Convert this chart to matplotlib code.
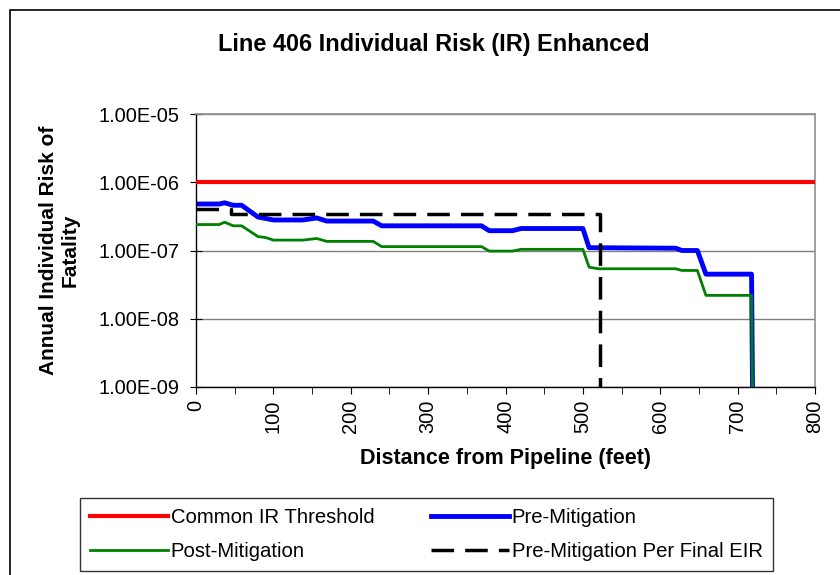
import matplotlib
matplotlib.use("Agg")
import matplotlib.pyplot as plt
from matplotlib.ticker import FuncFormatter, MultipleLocator, FixedLocator
from matplotlib.patches import Rectangle

plt.rcParams['font.family'] = ['Liberation Sans', 'DejaVu Sans']

# distance from pipeline (feet) and annual individual risk values
threshold_x = [0, 800]
threshold_y = [1e-6, 1e-6]

pre_x = [0, 30, 37, 48, 59, 80, 100, 138, 156, 169, 229, 240, 369, 379, 409, 420,
         500, 508, 620, 628, 648, 659, 718, 720]
pre_y = [4.8e-7, 4.8e-7, 5.0e-7, 4.6e-7, 4.6e-7, 3.1e-7, 2.8e-7, 2.8e-7, 3.0e-7, 2.7e-7,
         2.7e-7, 2.3e-7, 2.3e-7, 1.95e-7, 1.95e-7, 2.1e-7, 2.1e-7, 1.1e-7, 1.08e-7, 1.0e-7,
         1.0e-7, 4.5e-8, 4.5e-8, 1e-10]

post_x = [0, 30, 37, 48, 59, 80, 90, 100, 138, 156, 169, 229, 240, 369, 379, 409, 420,
          500, 508, 520, 620, 628, 648, 659, 718, 720]
post_y = [2.4e-7, 2.4e-7, 2.6e-7, 2.3e-7, 2.3e-7, 1.6e-7, 1.55e-7, 1.42e-7, 1.42e-7, 1.5e-7,
          1.36e-7, 1.36e-7, 1.14e-7, 1.14e-7, 9.8e-8, 9.8e-8, 1.04e-7, 1.04e-7, 5.7e-8, 5.4e-8,
          5.4e-8, 5.1e-8, 5.1e-8, 2.2e-8, 2.2e-8, 1e-10]

eir_x = [0, 45, 45, 522, 522]
eir_y = [4.0e-7, 4.0e-7, 3.4e-7, 3.4e-7, 1e-10]

W, H = 840, 575
fig = plt.figure(figsize=(W / 100, H / 100), dpi=100)

# outer chart border (runs off the right and bottom edges)
fig.patches.append(Rectangle((10 / W, -0.05), 1.1, 1 - 10 / H + 0.05,
                             transform=fig.transFigure, fill=False,
                             edgecolor='black', linewidth=1.2))

ax = fig.add_axes([196 / W, 1 - 387 / H, (815 - 196) / W, (387 - 114) / H])

ax.plot(threshold_x, threshold_y, color='#ff0000', lw=3, label='Common IR Threshold', zorder=3)
ax.plot(post_x, post_y, color='#008000', lw=2, label='Post-Mitigation', zorder=3)
ax.plot(pre_x, pre_y, color='#0000ff', lw=3.5, label='Pre-Mitigation', zorder=2)
ax.plot(eir_x, eir_y, color='black', lw=2.5, dashes=(6.5, 3.2),
        label='Pre-Mitigation Per Final EIR', zorder=4)

ax.set_yscale('log')
ax.set_ylim(1e-9, 1e-5)
ax.set_xlim(0, 800)
ax.yaxis.set_major_locator(FixedLocator([1e-9, 1e-8, 1e-7, 1e-6, 1e-5]))
ax.yaxis.set_minor_locator(FixedLocator([]))
ax.yaxis.set_major_formatter(FuncFormatter(lambda v, p: '{:.2E}'.format(v)))
ax.xaxis.set_major_locator(MultipleLocator(100))
ax.xaxis.set_minor_locator(MultipleLocator(50))

ax.grid(axis='y', color='#808080', lw=1)
ax.set_axisbelow(True)
for s in ['top', 'right']:
    ax.spines[s].set_color('#909090')
    ax.spines[s].set_linewidth(1.2)
for s in ['left', 'bottom']:
    ax.spines[s].set_color('black')
    ax.spines[s].set_linewidth(1)

ax.tick_params(axis='y', which='major', direction='inout', length=8, labelsize=14.4, pad=8)
ax.tick_params(axis='x', which='both', direction='out', length=5, labelsize=14.4,
               labelrotation=90, pad=4)

ax.set_xlabel('Distance from Pipeline (feet)', fontsize=15.5, fontweight='bold')
ax.xaxis.set_label_coords(0.5, -(448 - 387) / 273)
ax.set_ylabel('Annual Individual Risk of\nFatality', fontsize=15, fontweight='bold')
ax.yaxis.set_label_coords(-(196 - 80) / 619, 0.5)

fig.text(434 / W, 1 - 45 / H, 'Line 406 Individual Risk (IR) Enhanced',
         ha='center', va='center', fontsize=16.9, fontweight='bold')

leg = fig.legend(loc='upper left', bbox_to_anchor=(80 / W, 1 - 498 / H),
                 ncol=2, fontsize=14.6, handlelength=3.85, handletextpad=0.12,
                 columnspacing=2.8, frameon=True, fancybox=False, edgecolor='black',
                 borderaxespad=0, labelspacing=0.72, borderpad=0.5)
leg.get_frame().set_linewidth(1)

fig.savefig('out.png', dpi=100)
